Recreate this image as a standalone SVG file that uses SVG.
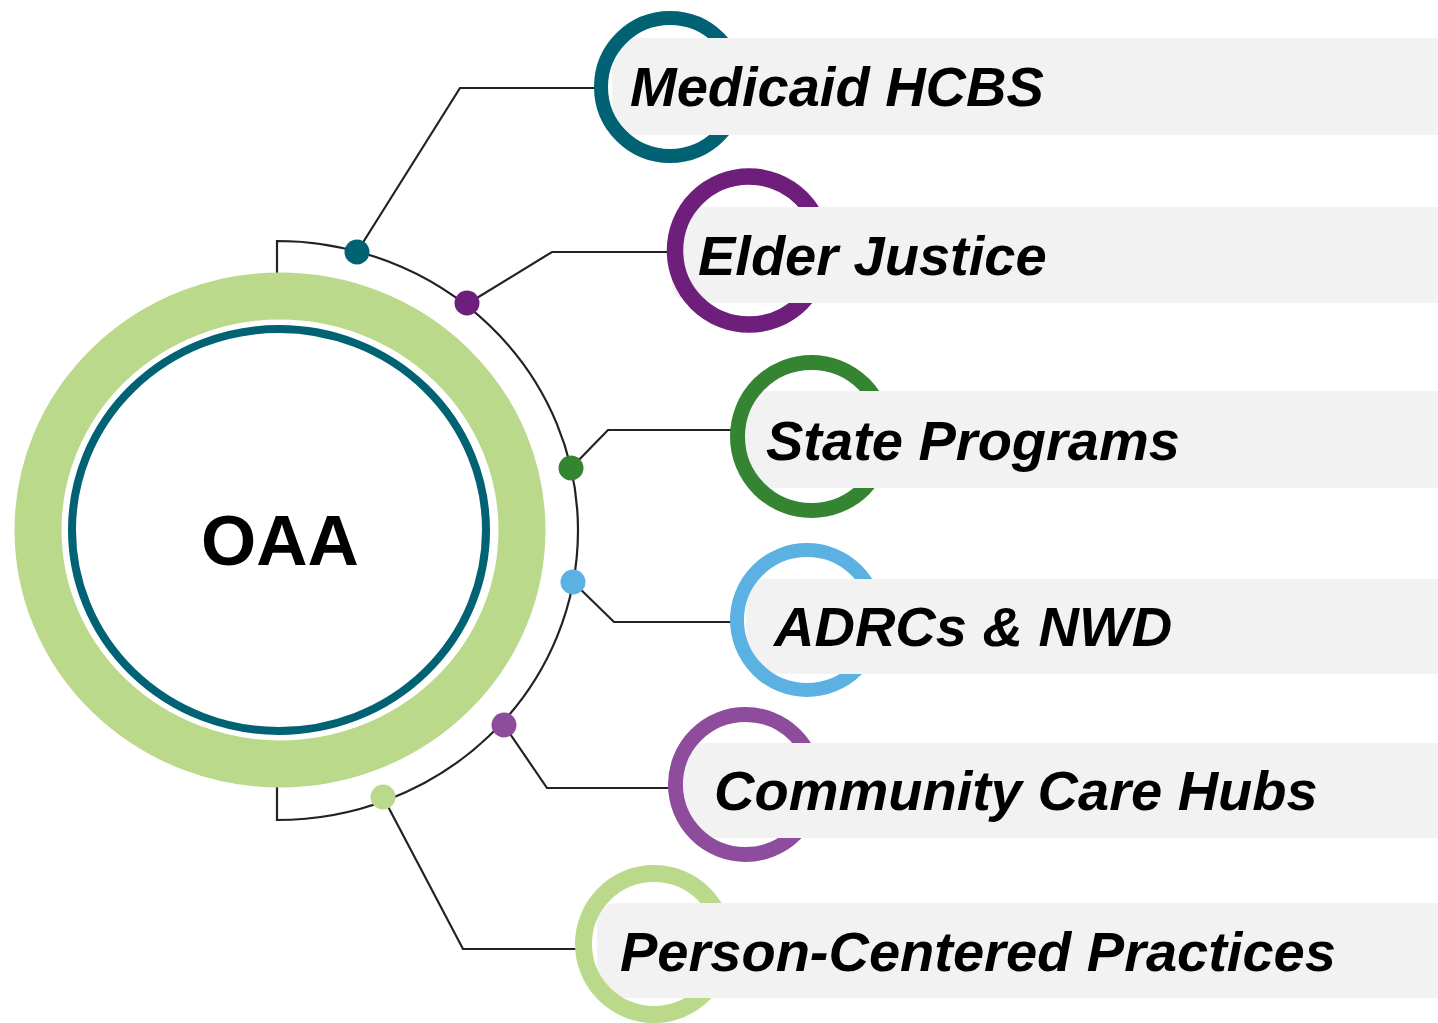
<svg xmlns="http://www.w3.org/2000/svg" width="1438" height="1023" viewBox="0 0 1438 1023">
<style>
.ln{fill:none;stroke:#222222;stroke-width:2.2;stroke-linejoin:miter}
.bar{fill:#F2F2F2}
.ring{fill:none}
.lbl{font-family:"Liberation Sans",Arial,sans-serif;font-weight:bold;font-style:italic;font-size:56px;fill:#000000}
.core{font-family:"Liberation Sans",Arial,sans-serif;font-weight:bold;font-size:71px;fill:#000000}
</style>
<rect width="1438" height="1023" fill="#FFFFFF"/>
<g id="connectors">
<path class="ln" d="M277,273 L277,241 A301,289.5 0 0 1 277,820 L277,787"/>
<polyline class="ln" points="357,252 460,88 596,88"/>
<polyline class="ln" points="467,304 552,252 668,252"/>
<polyline class="ln" points="571,468 608,430 731,430"/>
<polyline class="ln" points="573,582 614,622 731,622"/>
<polyline class="ln" points="504,725 547,788 669,788"/>
<polyline class="ln" points="383,797 463,949 576,949"/>
<circle cx="357" cy="252" r="12.5" fill="#006272"/>
<circle cx="467" cy="303" r="12.5" fill="#6E1F7B"/>
<circle cx="571" cy="468" r="12.5" fill="#348432"/>
<circle cx="573" cy="582" r="12.5" fill="#5BB1E2"/>
<circle cx="504" cy="725" r="12.5" fill="#8E4C9D"/>
<circle cx="383" cy="797" r="12.5" fill="#BBD98B"/>
</g>
<g id="oaa">
<ellipse cx="280" cy="530" rx="242" ry="234" fill="#FFFFFF" stroke="#BBD98B" stroke-width="47"/>
<ellipse cx="279" cy="530" rx="207" ry="201" fill="#FFFFFF" stroke="#006272" stroke-width="8"/>
<text class="core" x="280" y="565" text-anchor="middle">OAA</text>
</g>
<g id="medicaid-hcbs">
<rect class="bar" x="612" y="38" width="850" height="97" rx="20"/>
<circle class="ring" cx="670" cy="87" r="69" stroke="#006272" stroke-width="14"/>
<rect class="bar" x="670" y="38" width="790" height="97"/>
<text class="lbl" x="630" y="106">Medicaid HCBS</text>
</g>
<g id="elder-justice">
<rect class="bar" x="672" y="207" width="790" height="96" rx="20"/>
<circle class="ring" cx="749" cy="250.5" r="74" stroke="#6E1F7B" stroke-width="16.5"/>
<rect class="bar" x="749" y="207" width="700" height="96"/>
<text class="lbl" x="698" y="275">Elder Justice</text>
</g>
<g id="state-programs">
<rect class="bar" x="745" y="391" width="720" height="97" rx="20"/>
<circle class="ring" cx="811.5" cy="436.5" r="74" stroke="#348432" stroke-width="15"/>
<rect class="bar" x="811" y="391" width="650" height="97"/>
<text class="lbl" x="766" y="460">State Programs</text>
</g>
<g id="adrcs-nwd">
<rect class="bar" x="746" y="579" width="720" height="95" rx="20"/>
<circle class="ring" cx="807" cy="620" r="70" stroke="#5BB1E2" stroke-width="14"/>
<rect class="bar" x="807" y="579" width="650" height="95"/>
<text class="lbl" x="774" y="646">ADRCs &amp; NWD</text>
</g>
<g id="community-care-hubs">
<rect class="bar" x="684" y="743" width="780" height="95" rx="20"/>
<circle class="ring" cx="745.5" cy="784.5" r="70" stroke="#8E4C9D" stroke-width="15"/>
<rect class="bar" x="745" y="743" width="720" height="95"/>
<text class="lbl" x="714" y="810">Community Care Hubs</text>
</g>
<g id="person-centered-practices">
<rect class="bar" x="597" y="903" width="870" height="95" rx="20"/>
<circle class="ring" cx="654" cy="944" r="70.5" stroke="#BBD98B" stroke-width="17"/>
<rect class="bar" x="654" y="903" width="800" height="95"/>
<text class="lbl" x="620" y="971">Person-Centered Practices</text>
</g>
</svg>
